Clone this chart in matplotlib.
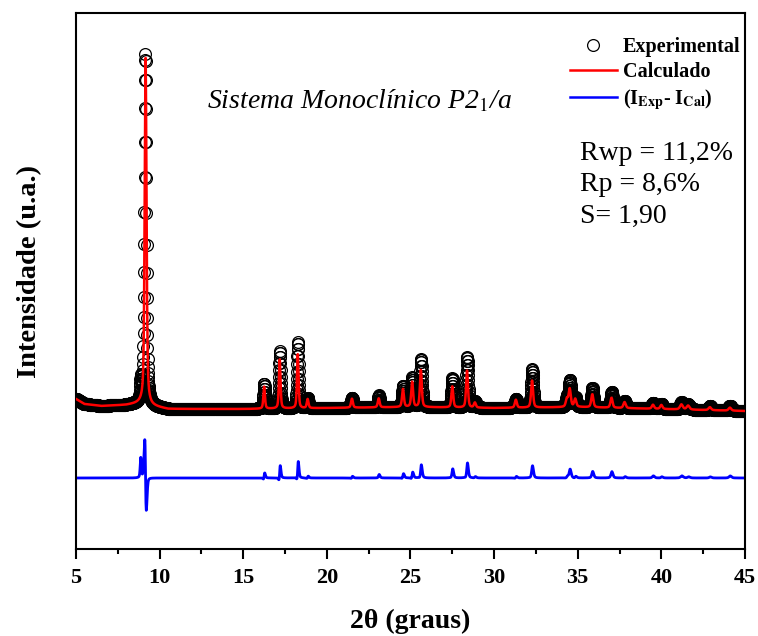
import numpy as np
import matplotlib
matplotlib.use('Agg')
import matplotlib.pyplot as plt
from matplotlib.lines import Line2D
from matplotlib.ticker import MultipleLocator

plt.rcParams['font.family'] = ['Liberation Serif', 'DejaVu Serif']
plt.rcParams['mathtext.fontset'] = 'stix'

# background knots (2theta, intensity a.u.)
bg_x = [5.0, 5.5, 6.5, 8.0, 9.0, 9.5, 10.5, 15.0, 20.0, 25.0, 30.0, 35.0, 40.0, 45.0]
bg_y = [150, 145, 143, 144, 146, 143, 140, 140, 141, 142, 141, 142, 140, 138]

# reflections: calculated model
calc_pos = [9.16, 16.25, 17.18, 18.26, 18.85, 21.50, 23.10, 24.55, 25.10, 25.62, 27.50, 28.38, 28.85,
            31.30, 32.27, 34.35, 34.52, 34.85, 35.87, 37.02, 37.80, 39.50, 40.00, 41.20, 41.60, 42.90, 44.10]
calc_int = [346, 22, 49, 54, 9, 9, 9, 18, 25, 37, 21, 37, 5,
            8, 27, 8, 18, 8, 13, 10, 6, 4, 4, 5, 4, 3, 3]
fwhm = [0.13, 0.11, 0.11, 0.11, 0.12, 0.13, 0.13, 0.13, 0.13, 0.13, 0.13, 0.13, 0.14,
        0.14, 0.14, 0.15, 0.15, 0.15, 0.15, 0.15, 0.16, 0.16, 0.16, 0.20, 0.20, 0.18, 0.18]

# reflections: observed
obs_pos = [9.15, 16.26, 17.19, 18.27, 18.86, 21.51, 23.11, 24.56, 25.11, 25.63, 27.51, 28.39, 28.86,
           31.31, 32.28, 34.36, 34.53, 34.86, 35.88, 37.03, 37.81, 39.51, 40.01, 41.21, 41.61, 42.91, 44.11]
obs_int = [350, 25, 57, 66, 10, 10, 12, 21, 29, 48, 29, 50, 6,
           9, 38, 9, 26, 9, 19, 16, 7, 6, 5, 7, 5, 4, 5]
shoulder_pos = [8.87]
shoulder_int = [20]

diff_offset = 71


def pv(x, p, h, w):
    g = np.exp(-4 * np.log(2) * (x - p) ** 2 / w ** 2)
    l = 1 / (1 + 4 * (x - p) ** 2 / w ** 2)
    return h * (0.5 * g + 0.5 * l)


tt = np.arange(5.0, 45.001, 0.01)
bg = np.interp(tt, bg_x, bg_y)
ycal = bg.copy()
yobs = bg.copy()
for i in range(len(calc_pos)):
    ycal += pv(tt, calc_pos[i], calc_int[i], fwhm[i])
    yobs += pv(tt, obs_pos[i], obs_int[i], fwhm[i])
for i in range(len(shoulder_pos)):
    yobs += pv(tt, shoulder_pos[i], shoulder_int[i], 0.08)
ydif = yobs - ycal + diff_offset

fig = plt.figure(figsize=(7.58, 6.36), dpi=100)
ax = fig.add_axes([0.1003, 0.1368, 0.8825, 0.8428])

ax.plot(tt, yobs, 'o', ms=8.5, mfc='none', mec='black', mew=0.9, zorder=1)
ax.plot(tt, ycal, '-', color='red', lw=1.8, zorder=3)
ax.plot(tt, ydif, '-', color='blue', lw=2.0, zorder=2)

ax.set_xlim(5, 45)
ax.set_ylim(0, 536)
ax.set_yticks([])
ax.xaxis.set_major_locator(MultipleLocator(5))
ax.xaxis.set_minor_locator(MultipleLocator(2.5))
ax.tick_params(axis='x', which='major', direction='out', length=7, width=1.5, labelsize=16, pad=7)
ax.tick_params(axis='x', which='minor', direction='out', length=3.5, width=1.5)
for t in ax.get_xticklabels():
    t.set_fontweight('bold')
for s in ax.spines.values():
    s.set_linewidth(1.5)

ax.set_xlabel('2θ (graus)', fontsize=20, fontweight='bold', labelpad=15)
ax.set_ylabel('Intensidade (u.a.)', fontsize=20.5, fontweight='bold')
ax.yaxis.set_label_coords(-0.051, 0.517)

ax.text(0.196, 0.836, r'Sistema Monoclínico P2$_{\mathit{1}}$/a', transform=ax.transAxes,
        fontsize=20, fontstyle='italic', va='center', ha='left')
ax.text(0.753, 0.762, 'Rwp = 11,2%\nRp = 8,6%\nS= 1,90', transform=ax.transAxes,
        fontsize=20, va='top', ha='left', linespacing=1.34)

handles = [Line2D([], [], ls='none', marker='o', ms=8.5, mfc='none', mec='black', mew=0.9),
           Line2D([], [], color='red', lw=1.8),
           Line2D([], [], color='blue', lw=1.8)]
labels = ['Experimental', 'Calculado', r'(I$_{\mathbf{Exp}}$- I$_{\mathbf{Cal}}$)']
ax.legend(handles, labels, loc='upper right', bbox_to_anchor=(1.011, 0.978), frameon=False,
          prop={'weight': 'bold', 'size': 14.5}, handlelength=2.3, handletextpad=0.3,
          labelspacing=0.26, borderaxespad=0.3, borderpad=0.3)

plt.savefig('out.png', dpi=100)
